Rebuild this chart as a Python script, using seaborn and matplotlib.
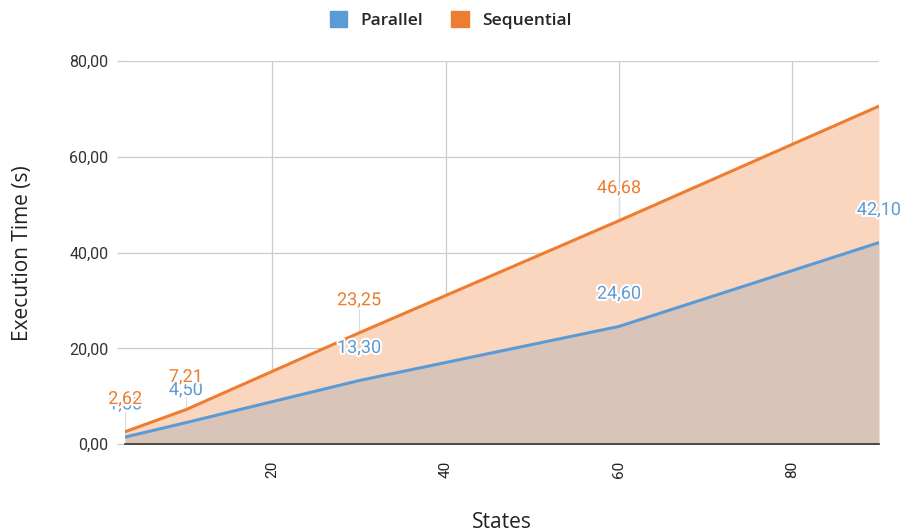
import matplotlib.pyplot as plt
import matplotlib.patheffects as pe
import matplotlib.ticker as mticker
from matplotlib.patches import Patch
import seaborn as sns
import pandas as pd

# data
states = [3, 10, 30, 60, 90]
parallel = [1.50, 4.50, 13.30, 24.60, 42.10]
sequential = [2.62, 7.21, 23.25, 46.68, 70.60]
# which points carry a value label
par_labels = [True, True, True, True, True]
seq_labels = [True, True, True, True, False]

blue = '#5b9bd5'
orange = '#ed7d31'
seq_fill = '#fbd6be'
par_fill = '#d8c4b9'

df = pd.DataFrame({'States': states * 2,
                   'Time': parallel + sequential,
                   'Series': ['Parallel'] * len(states) + ['Sequential'] * len(states)})

sns.set_theme(style='white')
plt.rcParams['font.family'] = ['Roboto', 'DejaVu Sans']

fig = plt.figure(figsize=(9.07, 5.32), dpi=100)
ax = fig.add_axes([0.138, 0.165, 0.831, 0.72])

# areas (sequential behind, parallel on top)
ax.fill_between(states, sequential, 0, color=seq_fill, lw=0, zorder=2)
ax.fill_between(states, parallel, 0, color=par_fill, lw=0, zorder=3)
sns.lineplot(data=df, x='States', y='Time', hue='Series', palette=[blue, orange],
             hue_order=['Parallel', 'Sequential'], lw=2.2, ax=ax, legend=False, zorder=4)

# value labels (parallel first so sequential sits on top)
halo = [pe.withStroke(linewidth=3, foreground='white')]
for xs, ys, show, c, z in [(states, parallel, par_labels, blue, 6),
                           (states, sequential, seq_labels, orange, 7)]:
    for x, y, s in zip(xs, ys, show):
        if not s:
            continue
        ax.plot([x, x], [y, y + 5.5], color='#dddddd', lw=0.8, zorder=1)
        ax.annotate(f'{y:.2f}'.replace('.', ','), (x, y), xytext=(0, 23.5),
                    textcoords='offset points', ha='center', va='center',
                    fontsize=13, color=c, path_effects=halo, zorder=z,
                    annotation_clip=False)

ax.set_xlim(3, 90)
ax.set_ylim(0, 80)
ax.set_xticks([20, 40, 60, 80])
ax.set_yticks([0, 20, 40, 60, 80])
ax.yaxis.set_major_formatter(mticker.FuncFormatter(lambda v, p: f'{v:.2f}'.replace('.', ',')))
ax.grid(True, color='#cccccc', lw=0.9, zorder=0)
ax.set_axisbelow(True)
for s in ['top', 'right', 'left']:
    ax.spines[s].set_visible(False)
ax.spines['bottom'].set_color('#333333')
ax.spines['bottom'].set_linewidth(1.2)
ax.spines['bottom'].set_zorder(5)
ax.tick_params(axis='x', labelrotation=90, labelsize=11, colors='#222222', length=0, pad=12)
ax.tick_params(axis='y', labelsize=11.5, labelcolor='#333333', color='#cccccc',
               length=6, width=0.9, left=True, pad=6)

ax.set_xlabel('States', fontsize=15, family='Open Sans', color='#222222', labelpad=24)
ax.set_ylabel('Execution Time (s)', fontsize=15, family='Open Sans', color='#222222', labelpad=26)

handles = [Patch(color=blue, label='Parallel'), Patch(color=orange, label='Sequential')]
fig.legend(handles=handles, loc='center', bbox_to_anchor=(0.497, 0.962), ncol=2, frameon=False,
           handlelength=1.0, handleheight=1.0, handletextpad=0.8, columnspacing=1.6,
           prop={'family': 'Open Sans', 'weight': 'semibold', 'size': 12.5})

fig.savefig('out.png', dpi=100)
